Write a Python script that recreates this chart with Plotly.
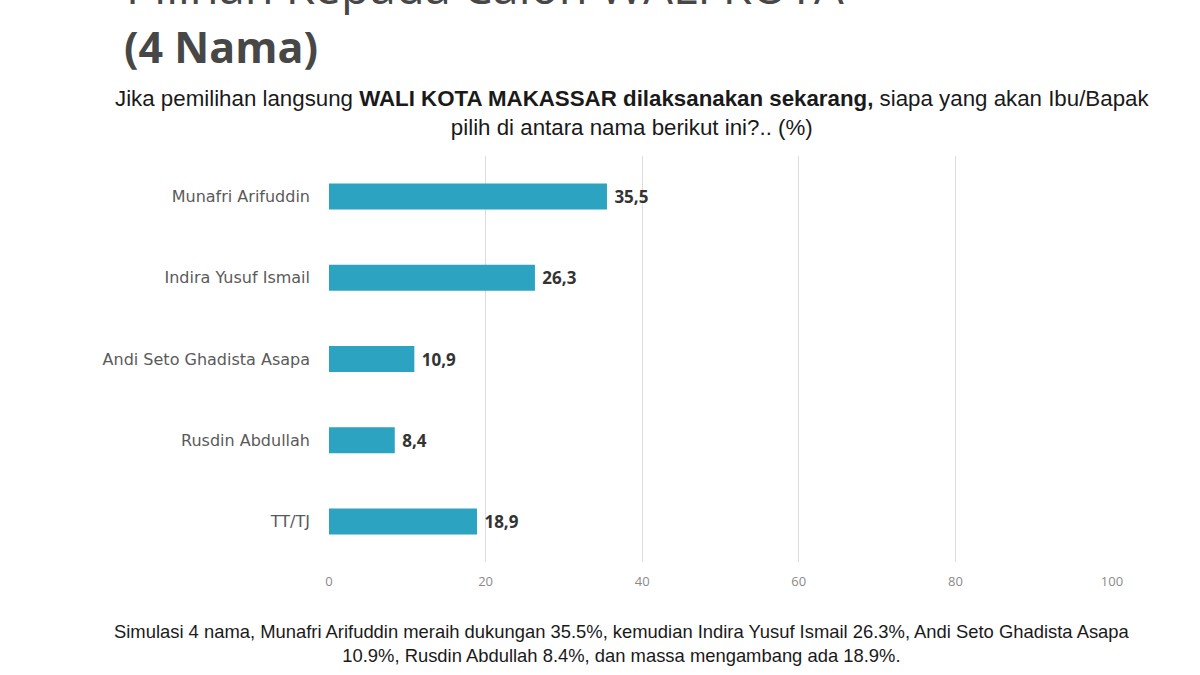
import plotly.graph_objects as go

categories = ["Munafri Arifuddin", "Indira Yusuf Ismail", "Andi Seto Ghadista Asapa", "Rusdin Abdullah", "TT/TJ"]
values = [35.5, 26.3, 10.9, 8.4, 18.9]
tick_vals = [0, 20, 40, 60, 80, 100]

labels = [f"{v:.1f}".replace(".", ",") for v in values]

fig = go.Figure(go.Bar(
    x=values, y=categories, orientation="h",
    marker=dict(color="#2BA3C1", line=dict(width=0)),
    width=0.32,
    text=labels, textposition="outside",
    textfont=dict(family="Open Sans", size=17, color="#333333"),
    texttemplate="\u00a0<b>%{text}</b>",
    cliponaxis=False,
))

fig.update_layout(
    width=1200, height=675,
    plot_bgcolor="white", paper_bgcolor="white",
    margin=dict(l=329, r=88, t=156, b=113),
    showlegend=False,
    xaxis=dict(range=[0, 100], tickvals=tick_vals, showgrid=True, gridcolor="#DCDCDC", gridwidth=1,
               zeroline=False, showline=False, ticks="",
               tickfont=dict(family="Open Sans", size=13, color="#8A8A8A"), ticklabelstandoff=10),
    yaxis=dict(categoryorder="array", categoryarray=categories[::-1], showgrid=False,
               showline=False, ticks="", ticklabelstandoff=18,
               tickfont=dict(family="DejaVu Sans", size=16, color="#5A5A5A")),
    annotations=[
        dict(text="Pilihan Kepada Calon WALI KOTA", x=124, y=-14,
             showarrow=False, font=dict(family="Open Sans", size=47, color="#474747"),
             xanchor="left", yanchor="middle"),
        dict(text="<b>(4 Nama)</b>", x=122, y=46, showarrow=False,
             font=dict(family="Open Sans", size=43, color="#474747"), xanchor="left", yanchor="middle"),
        dict(text="Jika pemilihan langsung <b>WALI KOTA MAKASSAR dilaksanakan sekarang,</b> siapa yang akan Ibu/Bapak<br>pilih di antara nama berikut ini?.. (%)",
             x=632, y=113, showarrow=False, align="center",
             font=dict(family="Liberation Sans", size=22.3, color="#1A1A1A"), xanchor="center", yanchor="middle"),
        dict(text="Simulasi 4 nama, Munafri Arifuddin meraih dukungan 35.5%, kemudian Indira Yusuf Ismail 26.3%, Andi Seto Ghadista Asapa<br>10.9%, Rusdin Abdullah 8.4%, dan massa mengambang ada 18.9%.",
             x=622, y=643, showarrow=False, align="center",
             font=dict(family="Liberation Sans", size=18.4, color="#1A1A1A"), xanchor="center", yanchor="middle"),
    ],
)

# convert pixel positions for annotations to paper coordinates
W, H = 1200, 675
l, r, t, b = 329, 88, 156, 113
pw, ph = W - l - r, H - t - b
new_ann = []
for a in fig.layout.annotations:
    px, py = a.x, a.y
    a.x = (px - l) / pw
    a.y = (H - b - py) / ph
    a.xref = "paper"; a.yref = "paper"
    new_ann.append(a)
fig.layout.annotations = new_ann

fig.write_html("out.html", config={"displayModeBar": False},
               post_script="document.body.style.margin='0';document.body.style.padding='0';")
